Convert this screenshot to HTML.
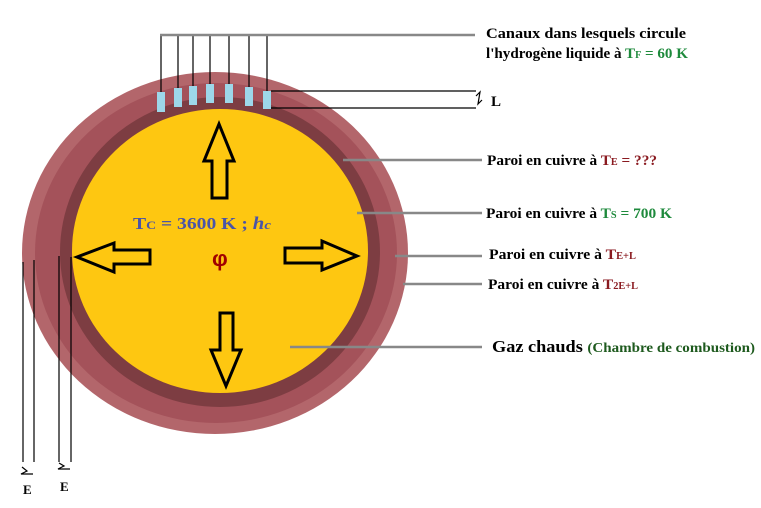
<!DOCTYPE html>
<html><head><meta charset="utf-8"><style>
html,body{margin:0;padding:0;background:#fff;width:761px;height:508px;overflow:hidden}
svg{display:block}
text{font-family:"Liberation Serif",serif;font-weight:bold}
</style></head><body>
<svg width="761" height="508" viewBox="0 0 761 508">
<ellipse cx="215" cy="253" rx="193" ry="181" fill="#b3666b"/>
<ellipse cx="216" cy="253" rx="181" ry="170" fill="#a4525a"/>
<ellipse cx="220" cy="252" rx="160" ry="155" fill="#7d3d42"/>
<ellipse cx="220" cy="251" rx="148" ry="142" fill="#fec711"/>
<g fill="#9dd7e9">
<rect x="157" y="92" width="8" height="20"/><rect x="174" y="88" width="8" height="19"/>
<rect x="189" y="86" width="8" height="19"/><rect x="206" y="84" width="8" height="19"/>
<rect x="225" y="84" width="8" height="19"/><rect x="245" y="87" width="8" height="19"/>
<rect x="263" y="91" width="8" height="18"/>
</g>
<g stroke="#000" stroke-width="1.2">
<line x1="161" y1="35" x2="161" y2="92"/><line x1="178" y1="35" x2="178" y2="88"/>
<line x1="193" y1="35" x2="193" y2="86"/><line x1="210" y1="35" x2="210" y2="84"/>
<line x1="229" y1="35" x2="229" y2="84"/><line x1="249" y1="35" x2="249" y2="87"/>
<line x1="267" y1="35" x2="267" y2="91"/>
<line x1="271" y1="91" x2="476" y2="91"/><line x1="271" y1="108" x2="476" y2="108"/>
<polyline points="476,96 480,92 478,104 482,100" fill="none"/>
<line x1="23" y1="262" x2="23" y2="462"/><line x1="34" y1="260" x2="34" y2="462"/>
<line x1="59" y1="256" x2="59" y2="462"/><line x1="71" y1="257" x2="71" y2="462"/>
<polyline points="22,467 27,471 21,474 33,474" fill="none"/>
<polyline points="59,463 64,466 58,469 70,469" fill="none"/>
</g>
<g stroke="#888" stroke-width="2.5">
<line x1="160" y1="35" x2="475" y2="35"/>
<line x1="343" y1="160" x2="482" y2="160"/>
<line x1="357" y1="213" x2="482" y2="213"/>
<line x1="395" y1="256" x2="482" y2="256"/>
<line x1="403" y1="284" x2="482" y2="284"/>
<line x1="290" y1="347" x2="482" y2="347"/>
</g>
<g fill="#fec711" stroke="#000" stroke-width="3" stroke-linejoin="miter">
<polygon points="219,124 234,161 227,161 227,198 212,198 212,161 204,161"/>
<polygon points="357,256 322,270 322,263 285,263 285,248 322,248 322,241"/>
<polygon points="226,386 241,350 233,350 233,313 220,313 220,350 211,350"/>
<polygon points="77,257 114,243 114,250 150,250 150,264 114,264 114,272"/>
</g>
<text x="133" y="229" font-size="17" fill="#4a54a8" textLength="138" lengthAdjust="spacingAndGlyphs">T<tspan font-size="12">C</tspan> = 3600 K  ;  <tspan font-style="italic" font-size="18">h<tspan font-size="13">c</tspan></tspan></text>
<text x="212" y="266" font-size="22" fill="#a00000" style="font-family:'Liberation Sans',sans-serif">φ</text>
<text x="486" y="38" font-size="15" fill="#000" textLength="200" lengthAdjust="spacingAndGlyphs">Canaux dans lesquels circule</text>
<text x="486" y="58" font-size="15" fill="#000" textLength="202" lengthAdjust="spacingAndGlyphs">l'hydrogène liquide à <tspan fill="#1e8a3c">T<tspan font-size="10">F</tspan> = 60 K</tspan></text>
<text x="491" y="106" font-size="15" fill="#000">L</text>
<text x="487" y="165" font-size="15" fill="#000" textLength="170" lengthAdjust="spacingAndGlyphs">Paroi en cuivre à <tspan fill="#8a1a20">T<tspan font-size="10">E</tspan> = ???</tspan></text>
<text x="486" y="218" font-size="15" fill="#000" textLength="186" lengthAdjust="spacingAndGlyphs">Paroi en cuivre à <tspan fill="#1e8a3c">T<tspan font-size="10">S</tspan> = 700 K</tspan></text>
<text x="489" y="259" font-size="15" fill="#000" textLength="147" lengthAdjust="spacingAndGlyphs">Paroi en cuivre à <tspan fill="#8a1a20">T<tspan font-size="10">E+L</tspan></tspan></text>
<text x="488" y="289" font-size="15" fill="#000" textLength="150" lengthAdjust="spacingAndGlyphs">Paroi en cuivre à <tspan fill="#8a1a20">T<tspan font-size="10">2E+L</tspan></tspan></text>
<text x="492" y="352" font-size="17" fill="#000" textLength="263" lengthAdjust="spacingAndGlyphs">Gaz chauds <tspan font-size="14" fill="#1e5a1e">(Chambre de combustion)</tspan></text>
<text x="23" y="494" font-size="13" fill="#000">E</text>
<text x="60" y="491" font-size="13" fill="#000">E</text>
</svg>
</body></html>
